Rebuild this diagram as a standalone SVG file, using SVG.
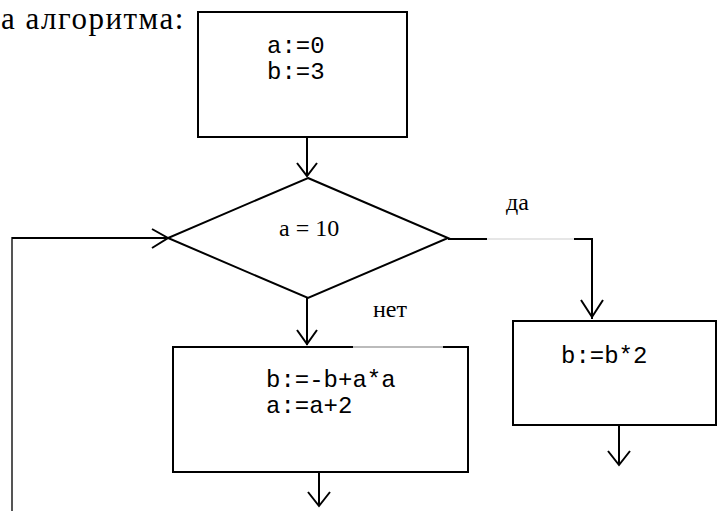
<svg xmlns="http://www.w3.org/2000/svg" width="718" height="511" viewBox="0 0 718 511">
<style>
.box{fill:#fff;stroke:#000;stroke-width:2}
.ln{fill:none;stroke:#000;stroke-width:2}
.ah{fill:none;stroke:#000;stroke-width:2}
.mono{font-family:"Liberation Mono","Courier New",monospace;font-size:24px;fill:#000}
.ser{font-family:"Liberation Serif","Times New Roman",serif;font-size:24px;fill:#000}
</style>
<rect width="718" height="511" fill="#fff"/>
<text class="ser" x="1" y="29" style="font-size:31px;letter-spacing:1.5px">а алгоритма:</text>
<g id="connectors">
<polyline class="ln" points="12,511 12,238 166,238" style="stroke:#555"/>
<line class="ln" x1="12" y1="238" x2="166" y2="238"/>
<polyline class="ah" points="152,229 168,238 152,248"/>
<line class="ln" x1="307" y1="137" x2="307" y2="176"/>
<polyline class="ah" points="297,163 307,176 317,163"/>
<line class="ln" x1="448" y1="239" x2="487" y2="239"/>
<line class="ln" x1="487" y1="239" x2="574" y2="239" style="stroke:#e6e6e6"/>
<polyline class="ln" points="574,239 592,239 592,319"/>
<polyline class="ah" points="581,300 592,317 603,300"/>
<line class="ln" x1="307" y1="298" x2="307" y2="345"/>
<polyline class="ah" points="297,330 307,344 317,330"/>
<line class="ln" x1="319" y1="472" x2="319" y2="506"/>
<polyline class="ah" points="308,492 319,506 330,492"/>
<line class="ln" x1="619" y1="425" x2="619" y2="465"/>
<polyline class="ah" points="608,451 619,465 630,451"/>
</g>
<g id="start">
<rect class="box" x="198" y="12" width="209" height="125"/>
<text class="mono" x="267" y="53">a:=0</text>
<text class="mono" x="267" y="79">b:=3</text>
</g>
<g id="cond">
<polygon class="box" points="308,178 448,238 308,298 168,238"/>
<text class="ser" x="279" y="236">a = 10</text>
</g>
<text class="ser" x="506" y="210">да</text>
<text class="ser" x="373" y="317">нет</text>
<g id="loopbody">
<rect class="box" x="173" y="347" width="295" height="125"/>
<line x1="353" y1="347" x2="443" y2="347" stroke="#bbb" stroke-width="2"/>
<text class="mono" x="266" y="387">b:=-b+a*a</text>
<text class="mono" x="266" y="413">a:=a+2</text>
</g>
<g id="yesbody">
<rect class="box" x="513" y="321" width="203" height="104"/>
<text class="mono" x="561" y="363">b:=b*2</text>
</g>
</svg>
